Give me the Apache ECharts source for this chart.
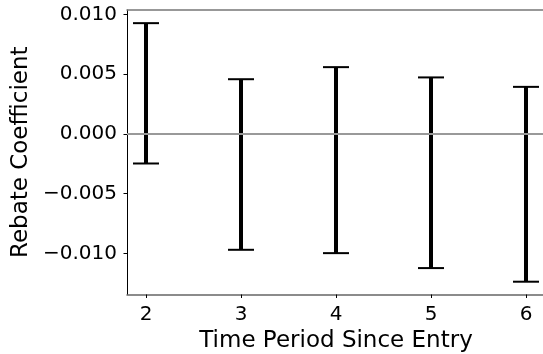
<!DOCTYPE html>
<html><head><meta charset="utf-8">
<script src="https://cdn.jsdelivr.net/npm/echarts@6/dist/echarts.min.js"></script>
<style>html,body{margin:0;padding:0;background:#fff}#c{width:543px;height:354px}</style>
</head><body><div id="c"></div>
<script>
const periods = [2, 3, 4, 5, 6];
const upper = [0.00926, 0.00457, 0.00558, 0.00472, 0.00393];
const lower = [-0.00248, -0.0097, -0.00998, -0.01123, -0.01237];
const yTicks = [-0.01, -0.005, 0, 0.005, 0.01];
const xTicks = [2, 3, 4, 5, 6];

const FONT = 'DejaVu Sans';
const fmt = v => { const s = Math.abs(v).toFixed(3); return (v < 0 ? '\u2212' : '') + s; };

const chart = echarts.init(document.getElementById('c'), null, {renderer: 'canvas'});
const data = periods.map((p, i) => [p, lower[i], upper[i]]);
chart.setOption({
  animation: false,
  grid: {left: 127, top: 10, right: -2, bottom: 59.5, containLabel: false, outerBoundsMode: 'none'},
  xAxis: [{
    type: 'value', min: 1.8, max: 6.2, position: 'bottom',
    splitLine: {show: false},
    axisLine: {show: true, onZero: false, lineStyle: {color: '#666', width: 1.5}},
    axisTick: {show: true, length: 3.5, lineStyle: {color: '#000', width: 1}, customValues: xTicks},
    axisLabel: {fontFamily: FONT, fontSize: 20, color: '#000', margin: 10, customValues: xTicks},
    name: 'Time Period Since Entry', nameLocation: 'middle', nameGap: 35,
    nameTextStyle: {fontFamily: FONT, fontSize: 23, color: '#000'}
  }, {
    type: 'value', min: 1.8, max: 6.2, position: 'top',
    splitLine: {show: false},
    axisLine: {show: true, onZero: false, lineStyle: {color: '#777', width: 1.5}},
    axisTick: {show: false}, axisLabel: {show: false}
  }],
  yAxis: {
    type: 'value', min: -0.01344, max: 0.01036,
    splitLine: {show: false},
    axisLine: {show: true, onZero: false, lineStyle: {color: '#000', width: 1}},
    axisTick: {show: true, length: 3.5, lineStyle: {color: '#000', width: 1}, customValues: yTicks},
    axisLabel: {fontFamily: FONT, fontSize: 20, color: '#000', margin: 10, customValues: yTicks, formatter: fmt},
    name: 'Rebate Coefficient', nameLocation: 'middle', nameGap: 81,
    nameTextStyle: {fontFamily: FONT, fontSize: 23, color: '#000'}
  },
  series: [{
    type: 'custom',
    data: data,
    encode: {x: 0, y: [1, 2]},
    renderItem: function (params, api) {
      const x = api.value(0);
      const lo = api.coord([x, api.value(1)]);
      const hi = api.coord([x, api.value(2)]);
      const half = 13;
      return {
        type: 'group',
        children: [
          {type: 'line', shape: {x1: lo[0], y1: lo[1], x2: hi[0], y2: hi[1]}, style: {stroke: '#000', lineWidth: 4}},
          {type: 'line', shape: {x1: lo[0] - half, y1: lo[1], x2: lo[0] + half, y2: lo[1]}, style: {stroke: '#000', lineWidth: 2}},
          {type: 'line', shape: {x1: hi[0] - half, y1: hi[1], x2: hi[0] + half, y2: hi[1]}, style: {stroke: '#000', lineWidth: 2}}
        ]
      };
    },
    markLine: {
      silent: true, symbol: 'none', label: {show: false},
      lineStyle: {color: '#999', width: 2, type: 'solid'},
      data: [{yAxis: 0}]
    },
    z: 3
  }]
});
</script></body></html>
